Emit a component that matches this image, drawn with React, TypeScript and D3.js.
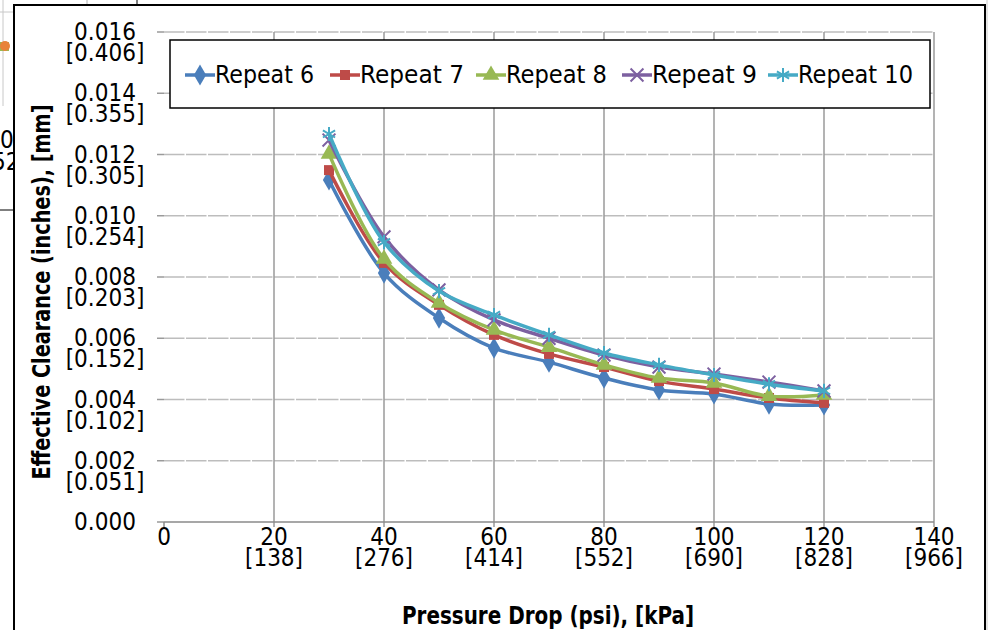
import React, { useEffect, useRef } from 'react'
import * as d3 from 'd3'

// pressure drop, psi
const pressure = [30, 40, 50, 60, 70, 80, 90, 100, 110, 120]

// effective clearance, inches
const repeat6 = [0.01117, 0.00813, 0.00666, 0.00568, 0.00522, 0.0047, 0.00431, 0.00418, 0.00385, 0.00382]
const repeat7 = [0.01149, 0.00846, 0.00709, 0.00611, 0.00549, 0.00506, 0.0046, 0.00434, 0.00405, 0.00389]
const repeat8 = [0.01202, 0.00859, 0.00715, 0.00627, 0.00571, 0.00513, 0.0047, 0.00454, 0.00411, 0.00415]
const repeat9 = [0.01247, 0.00931, 0.00758, 0.0066, 0.006, 0.00545, 0.00506, 0.00483, 0.00457, 0.00428]
const repeat10 = [0.01267, 0.00914, 0.00754, 0.00676, 0.00611, 0.00552, 0.00513, 0.0048, 0.0045, 0.00428]

const seriesNames = ['Repeat 6', 'Repeat 7', 'Repeat 8', 'Repeat 9', 'Repeat 10']
const seriesValues = [repeat6, repeat7, repeat8, repeat9, repeat10]
const seriesColors = ['#4a7ebb', '#be4b48', '#98b954', '#7d60a0', '#46aac5']

const xTicks = [0, 20, 40, 60, 80, 100, 120, 140]
const xTickKpa = ['', '[138]', '[276]', '[414]', '[552]', '[690]', '[828]', '[966]']
const yTicks = [0, 0.002, 0.004, 0.006, 0.008, 0.01, 0.012, 0.014, 0.016]
const yTickMm = ['', '[0.051]', '[0.102]', '[0.152]', '[0.203]', '[0.254]', '[0.305]', '[0.355]', '[0.406]']

const FONT = "'Liberation Sans Narrow', 'DejaVu Sans Condensed', 'Liberation Sans', Arial, sans-serif"

const W = 988, H = 630
const margin = { top: 32, right: 54, bottom: 108, left: 164 }

const symbolFor = [d3.symbolDiamond, d3.symbolSquare, d3.symbolTriangle, d3.symbolX, d3.symbolAsterisk]
const symbolSize = [130, 100, 120, 110, 140]
const strokeSymbol = [false, false, false, true, true]

const Chart = () => {
  const ref = useRef<SVGSVGElement>(null)

  useEffect(() => {
    const svg = d3.select(ref.current)
    svg.selectAll('*').remove()

    // bits of the chart sitting behind this one
    const back = svg.append('g')
    back.append('line').attr('x1', 3).attr('x2', 3).attr('y1', 0).attr('y2', 106).attr('stroke', '#c8c8c8')
    back.append('line').attr('x1', 0).attr('x2', 14).attr('y1', 12).attr('y2', 12).attr('stroke', '#c8c8c8')
    back.append('line').attr('x1', 87).attr('x2', 87).attr('y1', 0).attr('y2', 5).attr('stroke', '#b0b0b0')
    back.append('line').attr('x1', 137).attr('x2', 137).attr('y1', 0).attr('y2', 5).attr('stroke', '#000')
    back.append('line').attr('x1', 0).attr('x2', 14).attr('y1', 210).attr('y2', 210).attr('stroke', '#000')
    back.append('rect').attr('x', 0).attr('y', 42).attr('width', 9).attr('height', 9).attr('fill', '#98b954')
    back.append('circle').attr('cx', 5).attr('cy', 46).attr('r', 5).attr('fill', '#e8833a')
    back.append('text').attr('x', 0).attr('y', 148).attr('font-family', FONT).attr('font-size', 24).text('0')
    back.append('text').attr('x', -8).attr('y', 170).attr('font-family', FONT).attr('font-size', 24).text('52')
    back.append('line').attr('x1', 987).attr('x2', 987).attr('y1', 0).attr('y2', H).attr('stroke', '#c8c8c8')

    svg.append('rect')
      .attr('x', 14).attr('y', 5).attr('width', 971).attr('height', 700)
      .attr('fill', '#fff').attr('stroke', '#000').attr('stroke-width', 2)

    const x = d3.scaleLinear().domain([0, 140]).range([margin.left, W - margin.right])
    const y = d3.scaleLinear().domain([0, 0.016]).range([H - margin.bottom, margin.top])

    const grid = svg.append('g')
    const minorStep = x(4) - x(0)
    grid.selectAll('.hgrid')
      .data(yTicks.filter(d => d > 0))
      .enter().append('line')
      .attr('x1', x(0)).attr('x2', x(140))
      .attr('y1', d => y(d)).attr('y2', d => y(d))
      .attr('stroke', '#bdbdbd').attr('stroke-width', 1.5)
      .attr('stroke-dasharray', `${minorStep - 1.5},1.5`)
    grid.selectAll('.vgrid')
      .data(xTicks.filter(d => d > 0))
      .enter().append('line')
      .attr('x1', d => x(d)).attr('x2', d => x(d))
      .attr('y1', y(0.016)).attr('y2', y(0) + 5)
      .attr('stroke', '#9a9a9a').attr('stroke-width', 1.5)
    grid.selectAll('.ytick')
      .data(yTicks)
      .enter().append('line')
      .attr('x1', x(0) - 7).attr('x2', x(0))
      .attr('y1', d => y(d)).attr('y2', d => y(d))
      .attr('stroke', '#9a9a9a').attr('stroke-width', 1.5)
    grid.append('line')
      .attr('x1', x(0)).attr('x2', x(140)).attr('y1', y(0)).attr('y2', y(0))
      .attr('stroke', '#8a8a8a').attr('stroke-width', 1.5)
    grid.append('line')
      .attr('x1', x(0)).attr('x2', x(0)).attr('y1', y(0)).attr('y2', y(0) + 5)
      .attr('stroke', '#8a8a8a').attr('stroke-width', 1.5)

    // y tick labels, inches over mm
    const yl = svg.append('g').attr('font-family', FONT).attr('font-size', 24).attr('fill', '#000').attr('text-anchor', 'middle')
    yTicks.forEach((t, i) => {
      yl.append('text').attr('x', 105).attr('y', y(t) + 8).text(t.toFixed(3))
      if (yTickMm[i]) yl.append('text').attr('x', 105).attr('y', y(t) + 29).text(yTickMm[i])
    })
    const xl = svg.append('g').attr('font-family', FONT).attr('font-size', 24).attr('fill', '#000').attr('text-anchor', 'middle')
    xTicks.forEach((t, i) => {
      xl.append('text').attr('x', x(t)).attr('y', y(0) + 23).text(String(t))
      if (xTickKpa[i]) xl.append('text').attr('x', x(t)).attr('y', y(0) + 44).text(xTickKpa[i])
    })

    svg.append('text')
      .attr('transform', `translate(50,292) rotate(-90)`)
      .attr('text-anchor', 'middle')
      .attr('font-family', FONT).attr('font-weight', 'bold').attr('font-size', 24)
      .attr('textLength', 375).attr('lengthAdjust', 'spacingAndGlyphs')
      .text('Effective Clearance (inches), [mm]')
    svg.append('text')
      .attr('x', 548).attr('y', 624)
      .attr('text-anchor', 'middle')
      .attr('font-family', FONT).attr('font-weight', 'bold').attr('font-size', 24)
      .attr('textLength', 292).attr('lengthAdjust', 'spacingAndGlyphs')
      .text('Pressure Drop (psi), [kPa]')

    const line = d3.line<number>()
      .x((d, i) => x(pressure[i]))
      .y(d => y(d))
      .curve(d3.curveCatmullRom.alpha(0.5))

    const drawMarker = (g, k, cx, cy) => {
      const s = d3.symbol().type(symbolFor[k]).size(symbolSize[k])
      g.append('path')
        .attr('d', s())
        .attr('transform', `translate(${cx},${cy})`)
        .attr('fill', strokeSymbol[k] ? 'none' : seriesColors[k])
        .attr('stroke', seriesColors[k])
        .attr('stroke-width', strokeSymbol[k] ? 2 : 0)
    }

    seriesValues.forEach((vals, k) => {
      const g = svg.append('g')
      g.append('path')
        .attr('d', line(vals))
        .attr('fill', 'none')
        .attr('stroke', seriesColors[k])
        .attr('stroke-width', 3.5)
        .attr('stroke-linejoin', 'round')
      vals.forEach((v, i) => drawMarker(g, k, x(pressure[i]), y(v)))
    })

    // legend
    const lg = svg.append('g')
    lg.append('rect').attr('x', 170).attr('y', 40).attr('width', 760).attr('height', 68)
      .attr('fill', '#fff').attr('stroke', '#000').attr('stroke-width', 1.5)
    const legendX = [185, 330, 476, 622, 768]
    const legendW = [99, 104, 101, 105, 115]
    seriesNames.forEach((name, k) => {
      const lx = legendX[k]
      lg.append('line').attr('x1', lx).attr('x2', lx + 30).attr('y1', 75).attr('y2', 75)
        .attr('stroke', seriesColors[k]).attr('stroke-width', 3.5)
      drawMarker(lg, k, lx + 15, 75)
      lg.append('text').attr('x', lx + 30).attr('y', 83)
        .attr('font-family', FONT).attr('font-size', 24)
        .attr('textLength', legendW[k]).attr('lengthAdjust', 'spacingAndGlyphs')
        .text(name)
    })
  }, [])

  return <svg ref={ref} width={W} height={H} style={{ position: 'absolute', left: 0, top: 0, background: '#fff' }} />
}

export default function App() {
  return <Chart />
}
